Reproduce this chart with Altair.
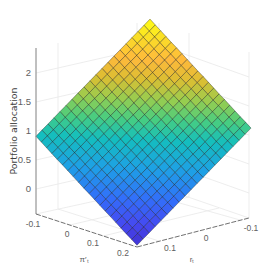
import altair as alt

# Surface heights (steps along each edge of the sheet)
z_top_corner = 2.43
z_drop_along_r = [0, .08, .16, .24, .32, .40, .48, .56, .64, .72, .80, .88, .96, 1.04, 1.12, 1.20, 1.28, 1.36, 1.44, 1.52]
z_drop_along_pi = [0, .07, .14, .21, .28, .345, .415, .485, .555, .625, .69, .76, .83, .90, .965, 1.035, 1.105, 1.175, 1.24, 1.31]

# Floor reference points of the box and of the sheet in picture units: [x, y]
sheet_back, sheet_left, sheet_right, sheet_front = (150, 185), (36, 214), (251, 218), (137, 247)
z_scale, z_min = 58, -0.43

z_ticks = [("2", 73), ("1.5", 102), ("1", 131), ("0.5", 160), ("0", 189)]
pi_ticks = [("-0.1", 33, 224), ("0", 67, 234), ("0.1", 93, 243), ("0.2", 123, 253)]
r_ticks = [("-0.1", 251, 228), ("0", 206, 238), ("0.1", 170, 248)]

palette_stops = [-0.41, -0.15, 0.17, 0.55, 0.92, 1.17, 1.42, 1.68, 1.93, 2.18, 2.43]
palette = ["#4030d0", "#4648f0", "#326efa", "#1ea0e6", "#14bebe", "#46cd82", "#96cd50", "#dcbe32", "#ffb93c", "#fadc28", "#ffff14"]

grid_lines = [
    [(36, 189), (159, 161)], [(36, 160), (159, 132)], [(36, 131), (159, 103)], [(36, 102), (159, 74)], [(36, 73), (159, 45)],
    [(159, 161), (249, 193)], [(159, 132), (249, 164)], [(159, 103), (249, 135)], [(159, 74), (249, 106)], [(159, 45), (249, 77)],
    [(58, 209), (58, 43)], [(137, 191), (137, 23)], [(159, 187), (159, 23)], [(189, 197), (189, 33)], [(249, 218), (249, 52)],
    [(58, 209), (159, 241)], [(137, 191), (240, 220)], [(219, 208), (103, 236)], [(189, 197), (70, 225)],
    [(36, 214), (159, 187)], [(159, 187), (249, 218)],
]
axis_lines = [[(36, 214), (36, 48)]]
floor_axis_lines = [[(36, 214), (137, 247)], [(137, 247), (249, 218)]]


def place(i, j, z):
    u, v = i / (len(z_drop_along_pi) - 1), j / (len(z_drop_along_r) - 1)
    x = (1-u)*(1-v)*sheet_back[0] + (1-u)*v*sheet_left[0] + u*(1-v)*sheet_right[0] + u*v*sheet_front[0]
    y = (1-u)*(1-v)*sheet_back[1] + (1-u)*v*sheet_left[1] + u*(1-v)*sheet_right[1] + u*v*sheet_front[1]
    return [x, y - (z - z_min) * z_scale]


def height(i, j):
    return z_top_corner - z_drop_along_pi[i] - z_drop_along_r[j]


cells = []
for i in range(len(z_drop_along_pi) - 1):
    for j in range(len(z_drop_along_r) - 1):
        corners = [(i, j), (i + 1, j), (i + 1, j + 1), (i, j + 1), (i, j)]
        ring = [place(a, b, height(a, b)) for a, b in corners]
        mean_z = sum(height(a, b) for a, b in corners[:4]) / 4
        cells.append({"type": "Feature", "properties": {"z": mean_z},
                      "geometry": {"type": "Polygon", "coordinates": [ring]}})


def line_features(lines):
    return [{"type": "Feature", "properties": {},
             "geometry": {"type": "LineString", "coordinates": [list(p) for p in l]}} for l in lines]


proj = dict(type="identity", scale=1, translate=[-8, -8])

grid = alt.Chart(alt.Data(values=line_features(grid_lines))).mark_geoshape(
    filled=False, stroke="#e8e8e8", strokeWidth=0.8).project(**proj)
axes = alt.Chart(alt.Data(values=line_features(axis_lines))).mark_geoshape(
    filled=False, stroke="#808080", strokeWidth=1).project(**proj)
floor_axes = alt.Chart(alt.Data(values=line_features(floor_axis_lines))).mark_geoshape(
    filled=False, stroke="#707070", strokeWidth=1, strokeDash=[5, 1.5]).project(**proj)
sheet = alt.Chart(alt.Data(values=cells)).mark_geoshape(
    stroke="#000000", strokeOpacity=0.45, strokeWidth=0.7).encode(
    color=alt.Color("properties.z:Q", legend=None,
                    scale=alt.Scale(domain=palette_stops, range=palette, interpolate="rgb"))
).project(**proj)

labels = [{"t": t, "x": 31, "y": y, "a": "right"} for t, y in z_ticks]
labels += [{"t": t, "x": x, "y": y, "a": "center"} for t, x, y in pi_ticks + r_ticks]


def text_layer(rows, **mark):
    return alt.Chart(alt.Data(values=rows)).mark_text(
        font="Liberation Sans", color="#606060", baseline="middle", **mark
    ).encode(longitude="x:Q", latitude="y:Q", text="t:N").project(**proj)


tick_right = text_layer([r for r in labels if r["a"] == "right"], fontSize=9.5, align="right")
tick_center = text_layer([r for r in labels if r["a"] == "center"], fontSize=8.5, align="center")
pi_title = text_layer([{"t": "π′ₜ", "x": 84, "y": 260}], fontSize=8, align="center")
r_title = text_layer([{"t": "rₜ", "x": 192, "y": 260}], fontSize=8, align="center")
y_title = alt.Chart(alt.Data(values=[{"t": "Portfolio allocation", "x": 14, "y": 131}])).mark_text(
    font="DejaVu Sans", fontSize=9.4, color="#404040", angle=270, align="center", baseline="middle"
).encode(longitude="x:Q", latitude="y:Q", text="t:N").project(**proj)

chart = alt.layer(grid, sheet, axes, floor_axes, tick_right, tick_center, pi_title, r_title, y_title).properties(
    width=261, height=261, padding=0, autosize=alt.AutoSizeParams(type="none")
).configure_view(stroke=None)

chart.save("out.html", embed_options={"renderer": "svg", "actions": False})
